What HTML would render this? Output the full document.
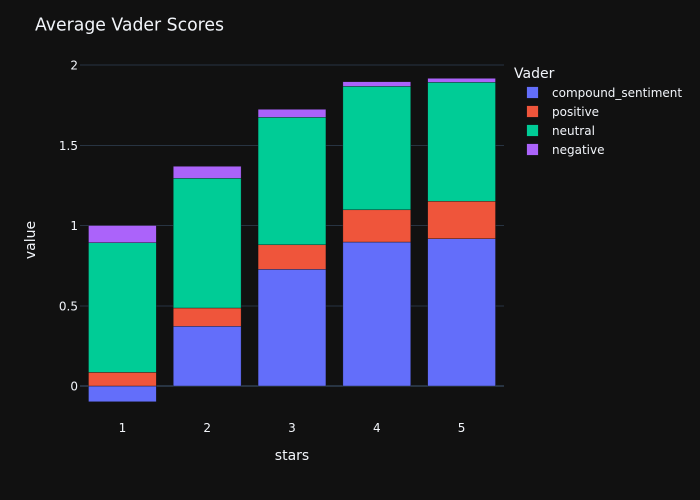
<!DOCTYPE html>
<html lang="en">
<head>
<meta charset="utf-8">
<title>Average Vader Scores</title>
<style>
  html, body { margin: 0; padding: 0; background: #111111; }
  svg { display: block; font-family: "DejaVu Sans", "Liberation Sans", sans-serif; fill: #f2f5fa; }
</style>
</head>
<body>
<svg id="chart" xmlns="http://www.w3.org/2000/svg" width="700" height="500" viewBox="0 0 700 500">
  <rect x="0" y="0" width="700" height="500" fill="#111111"></rect>
  <text x="35" y="30.5" font-size="17.5" textLength="189" lengthAdjust="spacingAndGlyphs">Average Vader Scores</text>
  <g id="grid"></g>
  <g id="bars"></g>
  <g id="xticks"></g>
  <g id="yticks"></g>
  <text x="292" y="460" font-size="14" text-anchor="middle">stars</text>
  <text transform="translate(35,240) rotate(-90)" font-size="14" text-anchor="middle">value</text>
  <text x="514" y="78" font-size="14">Vader</text>
  <g id="legend"></g>
</svg>
<script>
const categories = ["1", "2", "3", "4", "5"];
const seriesNames = ["compound_sentiment", "positive", "neutral", "negative"];
const compoundValues = [-0.098, 0.372, 0.727, 0.897, 0.918];
const positiveValues = [0.085, 0.114, 0.153, 0.201, 0.233];
const neutralValues = [0.808, 0.808, 0.794, 0.769, 0.741];
const negativeValues = [0.107, 0.075, 0.050, 0.029, 0.025];
const yTickValues = [0, 0.5, 1, 1.5, 2];
const yTickLabels = ["0", "0.5", "1", "1.5", "2"];

const seriesValues = [compoundValues, positiveValues, neutralValues, negativeValues];
const seriesColors = ["#636efa", "#EF553B", "#00cc96", "#ab63fa"];
const NS = "http://www.w3.org/2000/svg";
const plotLeft = 80, plotRight = 504, plotTop = 60, plotBottom = 420;
const yDomainMin = -0.2118, yDomainMax = 2.0312;
const bandwidth = (plotRight - plotLeft) / categories.length;

function xScale(i) { return plotLeft + bandwidth * (i + 0.5); }
function yScale(v) {
  return plotBottom - (v - yDomainMin) / (yDomainMax - yDomainMin) * (plotBottom - plotTop);
}
function make(tag, attrs, parent, text) {
  const el = document.createElementNS(NS, tag);
  for (const k in attrs) el.setAttribute(k, attrs[k]);
  if (text !== undefined) el.textContent = text;
  parent.appendChild(el);
  return el;
}

const gridG = document.getElementById("grid");
const yTicksG = document.getElementById("yticks");
yTickValues.forEach(function (v, i) {
  const line = make("line", { x1: plotLeft, x2: plotRight, y1: yScale(v), y2: yScale(v), stroke: "#283442", "stroke-width": v === 0 ? 2 : 1, "shape-rendering": "crispEdges" }, gridG);
  
  
  const label = make("text", { x: 78, y: yScale(v) + 4.5, "font-size": 12, "text-anchor": "end" }, yTicksG, yTickLabels[i]);
  
  
});

const barsG = document.getElementById("bars");
const barWidth = bandwidth * 0.8;
categories.forEach(function (cat, c) {
  let posBase = 0, negBase = 0;
  seriesValues.forEach(function (vals, s) {
    const v = vals[c];
    let start, end;
    if (v >= 0) { start = posBase; end = posBase + v; posBase = end; }
    else { start = negBase; end = negBase + v; negBase = end; }
    const top = Math.min(yScale(start), yScale(end));
    const h = Math.abs(yScale(start) - yScale(end));
    const bar = make("rect", { x: xScale(c) - barWidth / 2, y: top, width: barWidth, height: h, fill: seriesColors[s], stroke: "#111111", "stroke-opacity": 0.75, "stroke-width": 0.5 }, barsG);
    
    
  });
});

const xTicksG = document.getElementById("xticks");
categories.forEach(function (cat, c) {
  const label = make("text", { x: xScale(c), y: 432, "font-size": 12, "text-anchor": "middle" }, xTicksG, cat);
  
  
});

const legendG = document.getElementById("legend");
seriesNames.forEach(function (name, s) {
  const rowY = 92.5 + s * 19;
  const entry = make("g", {}, legendG);
  
  
  const swatch = make("rect", { x: 526.7, y: rowY - 5.8, width: 11.6, height: 11.6, fill: seriesColors[s], stroke: "#111111", "stroke-opacity": 0.75, "stroke-width": 0.5 }, entry);
  
  
  const label = make("text", { x: 552, y: rowY + 4.3, "font-size": 12 }, entry, name);
  
  
});
</script>
</body>
</html>
